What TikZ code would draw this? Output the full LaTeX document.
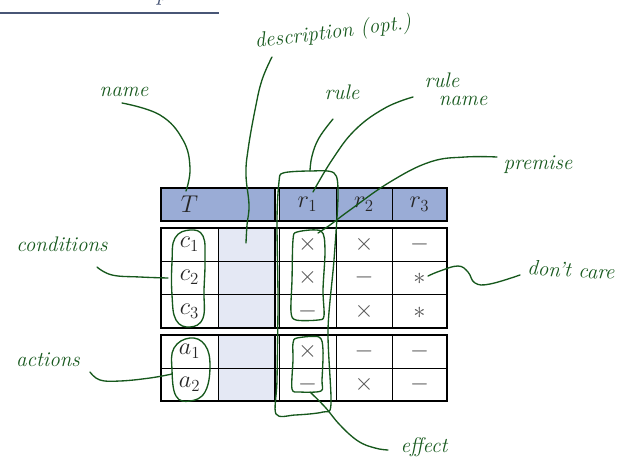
\documentclass[tikz,border=0pt]{standalone}
\usepackage{tikz}

\definecolor{headblue}{RGB}{154,172,214}
\definecolor{descblue}{RGB}{228,232,244}
\definecolor{penink}{RGB}{22,88,28}
\definecolor{slate}{RGB}{72,86,118}
\definecolor{markgray}{RGB}{85,85,85}

\tikzset{
  thinrule/.style={line width=0.6pt},
  thickrule/.style={line width=1.2pt},
  sepbar/.style={line width=1.9pt},
  pen/.style={draw=penink, line width=0.95pt, line cap=round, line join=round},
  scribble/.style={text=penink, font=\fontsize{15}{13}\selectfont\itshape, inner sep=0pt},
  entry/.style={text=markgray, font=\LARGE},
  headtext/.style={text=black!85, font=\LARGE},
}

\begin{document}
\begin{tikzpicture}[x=0.025cm,y=-0.025cm]

\useasboundingbox (0,0) rectangle (621,470);
\clip (0,0) rectangle (621,470);

% slide heading, cut off at the top
\node[slate, font=\LARGE\itshape, anchor=base, inner sep=0pt] (title) at (162,0) {p};
\draw[slate, line width=1.4pt] (0,13) to (219,13);

% header row
\path[fill=headblue] (161,188) rectangle (275,221);
\path[fill=headblue] (279,188) rectangle (447,221);
\draw[thinrule] (279.5,188) to (279.5,221)
  (336,188) to (336,221)
  (392,188) to (392,221);
\draw[sepbar] (275,188) to (275,221);
\draw[thickrule] (161,188) rectangle (447,221);

% conditions block
\path[fill=descblue] (218,228) rectangle (275,328);
\draw[thinrule] (161,261) to (447,261)
  (161,294) to (447,294)
  (218,228) to (218,328)
  (279.5,228) to (279.5,328)
  (336,228) to (336,328)
  (392,228) to (392,328);
\draw[sepbar] (275,228) to (275,328);
\draw[thickrule] (161,228) rectangle (447,328);

% actions block
\path[fill=descblue] (218,335) rectangle (275,401);
\draw[thinrule] (161,368) to (447,368)
  (218,335) to (218,401)
  (279.5,335) to (279.5,401)
  (336,335) to (336,401)
  (392,335) to (392,401);
\draw[sepbar] (275,335) to (275,401);
\draw[thickrule] (161,335) rectangle (447,401);

% cell texts
\node[headtext] (T) at (189.5,204.5) {$T$};
\node[headtext] (r1) at (307.5,204.5) {$r_1$};
\node[headtext] (r2) at (364,204.5) {$r_2$};
\node[headtext] (r3) at (419.5,204.5) {$r_3$};

\node[headtext] (c1) at (189.5,244.5) {$c_1$};
\node[headtext] (c2) at (189.5,277.5) {$c_2$};
\node[headtext] (c3) at (189.5,311) {$c_3$};
\node[headtext] (a1) at (189.5,351.5) {$a_1$};
\node[headtext] (a2) at (189.5,384.5) {$a_2$};

\node[entry] (c1r1) at (307.5,244.5) {$\times$};
\node[entry] (c1r2) at (364,244.5) {$\times$};
\node[entry] (c1r3) at (419.5,244.5) {$-$};
\node[entry] (c2r1) at (307.5,277.5) {$\times$};
\node[entry] (c2r2) at (364,277.5) {$-$};
\node[entry] (c2r3) at (419.5,279) {$\ast$};
\node[entry] (c3r1) at (307.5,311) {$-$};
\node[entry] (c3r2) at (364,311) {$\times$};
\node[entry] (c3r3) at (419.5,312.5) {$\ast$};
\node[entry] (a1r1) at (307.5,351.5) {$\times$};
\node[entry] (a1r2) at (364,351.5) {$-$};
\node[entry] (a1r3) at (419.5,351.5) {$-$};
\node[entry] (a2r1) at (307.5,384.5) {$-$};
\node[entry] (a2r2) at (364,384.5) {$\times$};
\node[entry] (a2r3) at (419.5,384.5) {$-$};

% handwritten notes
\node[scribble] (name) at (124,92) {name};
\node[scribble, rotate=7] (descr) at (333,33) {description (opt.)};
\node[scribble] (rule) at (342,92) {rule};
\node[scribble, align=left] (rulename) at (456,89) {rule\\\hspace{10pt}name};
\node[scribble] (premise) at (538,165) {premise};
\node[scribble, rotate=-3] (dontcare) at (571,270) {don't care};
\node[scribble] (conditions) at (62,244) {conditions};
\node[scribble] (actions) at (48,360) {actions};
\node[scribble] (effect) at (424,447) {effect};

% loops round the parts
\draw[pen] plot[smooth cycle, tension=0.7] coordinates {
  (190,230) (203,236) (205,260) (204,290) (203,318) (190,327)
  (176,320) (172,295) (172,262) (175,238)};
\draw[pen] plot[smooth cycle, tension=0.7] coordinates {
  (190,338) (205,345) (210,366) (205,392) (190,401)
  (176,396) (172,370) (174,348)};
\draw[pen] plot[smooth cycle, tension=0.5] coordinates {
  (297,232) (321,231) (325,250) (323,290) (324,316) (318,320)
  (296,320) (291,312) (292,280) (293,240)};
\draw[pen] plot[smooth cycle, tension=0.5] coordinates {
  (297,338) (319,337) (323,350) (322,380) (321,391) (300,392)
  (292,389) (293,360) (293,343)};
\draw[pen] plot[smooth cycle, tension=0.5] coordinates {
  (283,173) (310,171) (334,173) (338,195) (334,260) (328,330)
  (331,404) (323,412) (295,415) (276,414) (277,380) (278,300)
  (277,220) (279,182)};

% pointers from the notes
\draw[pen] plot[smooth, tension=0.7] coordinates {
  (122,103) (160,115) (183,140) (190,168) (186,191)};
\draw[pen] plot[smooth, tension=0.7] coordinates {
  (272,57) (262,80) (255,110) (248,150) (246,175) (249,205) (247,225) (246,243)};
\draw[pen] plot[smooth, tension=0.7] coordinates {
  (333,119) (319,138) (312,156) (310,171)};
\draw[pen] plot[smooth, tension=0.7] coordinates {
  (413,97) (385,108) (355,130) (332,160) (313,192)};
\draw[pen] plot[smooth, tension=0.7] coordinates {
  (497,157) (465,157) (430,162) (390,182) (350,210) (330,225) (318,233)};
\draw[pen] plot[smooth, tension=0.7] coordinates {
  (310,392) (325,407) (340,425) (358,441) (375,448) (388,450)};
\draw[pen] plot[smooth, tension=0.7] coordinates {
  (428,276) (440,271) (458,266) (468,272) (475,283) (490,284) (520,275)};
\draw[pen] plot[smooth, tension=0.7] coordinates {
  (97,267) (112,275) (140,277) (168,278)};
\draw[pen] plot[smooth, tension=0.7] coordinates {
  (90,372) (100,380) (120,381) (150,378) (172,374)};

\end{tikzpicture}
\end{document}
